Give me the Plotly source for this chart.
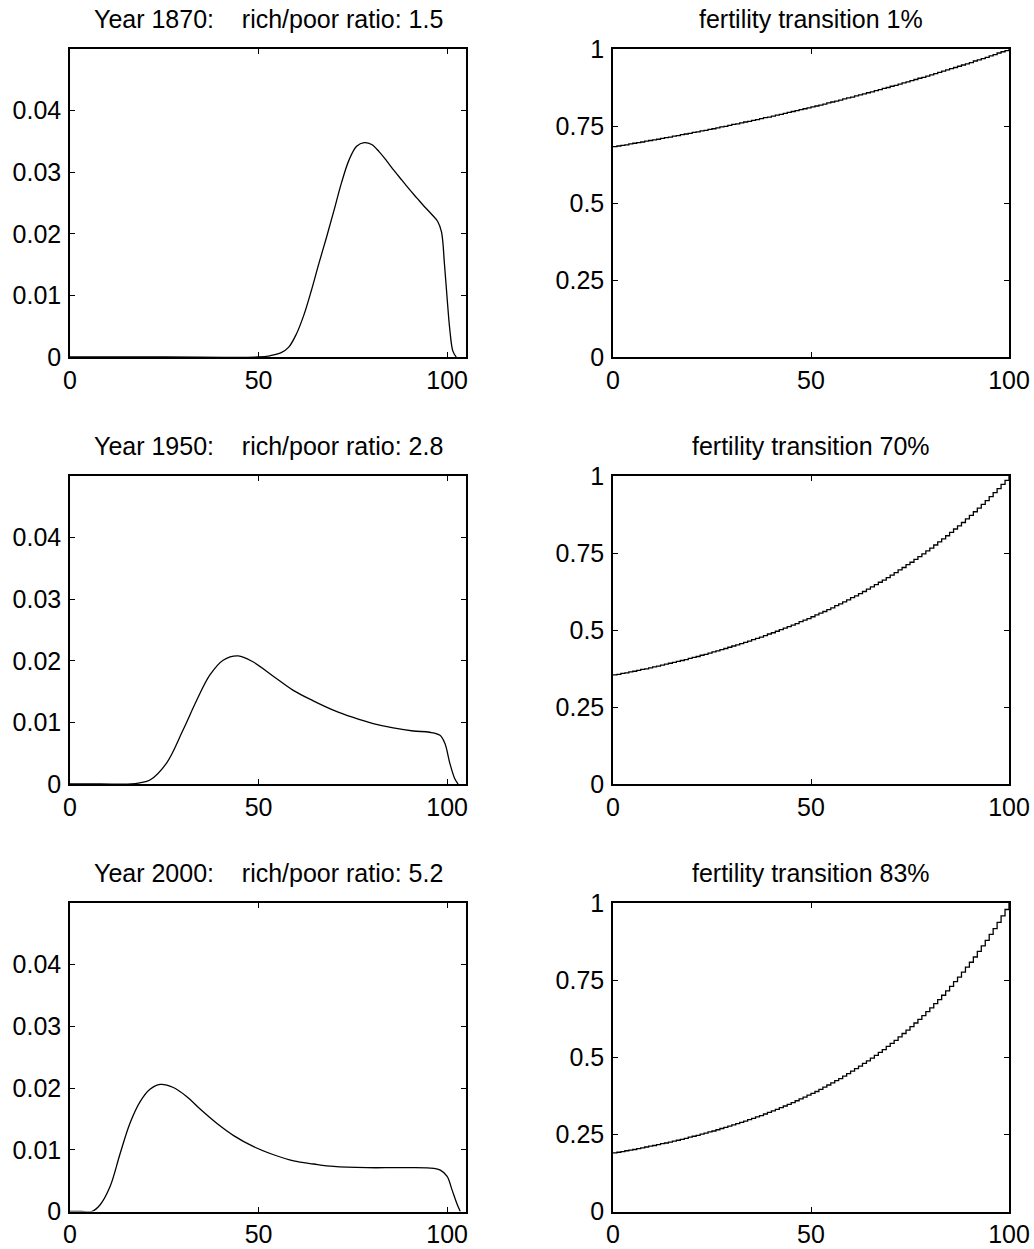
import plotly.graph_objects as go

# ---------------- data ----------------
titles_left = ["Year 1870:\u00a0\u00a0\u00a0 rich/poor ratio: 1.5",
               "Year 1950:\u00a0\u00a0\u00a0 rich/poor ratio: 2.8",
               "Year 2000:\u00a0\u00a0\u00a0 rich/poor ratio: 5.2"]
titles_right = ["fertility transition 1%",
                "fertility transition 70%",
                "fertility transition 83%"]

age_1870 = [0, 25, 50, 53, 56, 58, 60, 62, 64, 66, 68, 70, 72, 74, 76, 78, 80, 82, 84, 86,
            88, 90, 92, 94, 96, 97.5, 98.5, 99.3, 100, 100.7, 101.5, 102.4]
dens_1870 = [0, 0, 0, 0.0002, 0.0007, 0.0016, 0.0037, 0.0068, 0.0108, 0.0152, 0.0194, 0.0238,
             0.0283, 0.0320, 0.0342, 0.0348, 0.0345, 0.0333, 0.0318, 0.0302, 0.0287, 0.0272,
             0.0258, 0.0244, 0.0231, 0.0220, 0.0203, 0.0150, 0.0095, 0.0045, 0.0010, 0]

age_1950 = [0, 8, 16.3, 18.5, 21.2, 25.6, 30, 33.6, 37.1, 40.6, 44.6, 48.6, 53.9, 59.2, 64.5,
            69.8, 75.1, 80.4, 85.7, 91, 95.4, 98.1, 99.4, 100.7, 102, 102.9]
dens_1950 = [0, 0, 0, 0.0002, 0.00065, 0.0034, 0.0088, 0.0136, 0.0177, 0.0201, 0.0208, 0.0198,
             0.0175, 0.0152, 0.0135, 0.0120, 0.0108, 0.0098, 0.0091, 0.0086, 0.0084, 0.0079,
             0.0066, 0.0034, 0.0009, 0]

age_2000 = [0, 3, 5.75, 8, 10.6, 13.3, 15.9, 18.6, 21.2, 23.9, 27.4, 31, 34.5, 38.9, 43.4,
            48.7, 54, 59.3, 64.6, 69.9, 78.8, 87.6, 96.5, 98.2, 100, 101.3, 102.7, 103.5]
dens_2000 = [0, 0, 0, 0.0011, 0.0040, 0.0094, 0.0143, 0.0178, 0.0198, 0.0206, 0.0201, 0.0186,
             0.0166, 0.0143, 0.0123, 0.0105, 0.0092, 0.0082, 0.0077, 0.0073, 0.0071, 0.0071,
             0.0070, 0.0067, 0.0057, 0.0035, 0.0011, 0]

# fertility step levels, one per rank 0..100
rank = list(range(101))
fert_1 = [0.683, 0.685, 0.687, 0.689, 0.692, 0.694, 0.696, 0.698, 0.701, 0.703,
          0.705, 0.707, 0.710, 0.712, 0.714, 0.717, 0.719, 0.722, 0.724, 0.726,
          0.729, 0.731, 0.734, 0.736, 0.739, 0.741, 0.744, 0.747, 0.749, 0.752,
          0.755, 0.757, 0.760, 0.763, 0.765, 0.768, 0.771, 0.774, 0.777, 0.779,
          0.782, 0.785, 0.788, 0.791, 0.794, 0.797, 0.800, 0.803, 0.806, 0.809,
          0.812, 0.815, 0.818, 0.821, 0.825, 0.828, 0.831, 0.834, 0.838, 0.841,
          0.844, 0.848, 0.851, 0.854, 0.858, 0.861, 0.865, 0.868, 0.872, 0.875,
          0.879, 0.882, 0.886, 0.890, 0.893, 0.897, 0.901, 0.905, 0.908, 0.912,
          0.916, 0.920, 0.924, 0.928, 0.932, 0.936, 0.940, 0.944, 0.948, 0.952,
          0.956, 0.961, 0.965, 0.969, 0.973, 0.978, 0.982, 0.987, 0.991, 0.995,
          1.000]
fert_70 = [0.354, 0.356, 0.359, 0.361, 0.364, 0.366, 0.369, 0.372, 0.374, 0.377,
           0.380, 0.383, 0.386, 0.389, 0.392, 0.395, 0.398, 0.401, 0.404, 0.408,
           0.411, 0.414, 0.418, 0.421, 0.425, 0.429, 0.432, 0.436, 0.440, 0.444,
           0.448, 0.452, 0.456, 0.460, 0.464, 0.469, 0.473, 0.477, 0.482, 0.487,
           0.491, 0.496, 0.501, 0.506, 0.511, 0.516, 0.521, 0.527, 0.532, 0.537,
           0.543, 0.549, 0.555, 0.560, 0.566, 0.572, 0.579, 0.585, 0.591, 0.598,
           0.605, 0.611, 0.618, 0.625, 0.633, 0.640, 0.647, 0.655, 0.662, 0.670,
           0.678, 0.686, 0.695, 0.703, 0.712, 0.720, 0.729, 0.738, 0.747, 0.757,
           0.766, 0.776, 0.786, 0.796, 0.806, 0.817, 0.828, 0.838, 0.849, 0.861,
           0.872, 0.884, 0.896, 0.908, 0.920, 0.933, 0.946, 0.959, 0.973, 0.986,
           1.000]
fert_83 = [0.190, 0.192, 0.194, 0.197, 0.199, 0.201, 0.204, 0.206, 0.209, 0.212,
           0.214, 0.217, 0.220, 0.222, 0.225, 0.228, 0.231, 0.234, 0.237, 0.241,
           0.244, 0.247, 0.251, 0.254, 0.258, 0.261, 0.265, 0.269, 0.273, 0.277,
           0.281, 0.285, 0.289, 0.293, 0.298, 0.302, 0.307, 0.311, 0.316, 0.321,
           0.326, 0.331, 0.337, 0.342, 0.347, 0.353, 0.359, 0.365, 0.371, 0.377,
           0.383, 0.389, 0.396, 0.403, 0.410, 0.417, 0.424, 0.431, 0.439, 0.447,
           0.455, 0.463, 0.471, 0.480, 0.488, 0.497, 0.506, 0.516, 0.525, 0.535,
           0.545, 0.555, 0.566, 0.577, 0.588, 0.599, 0.611, 0.623, 0.635, 0.648,
           0.660, 0.674, 0.687, 0.701, 0.715, 0.730, 0.745, 0.760, 0.776, 0.792,
           0.808, 0.825, 0.843, 0.861, 0.879, 0.898, 0.917, 0.937, 0.958, 0.979,
           1.000]

left_x = [age_1870, age_1950, age_2000]
left_y = [dens_1870, dens_1950, dens_2000]
right_y = [fert_1, fert_70, fert_83]

left_ticks = [0, 0.01, 0.02, 0.03, 0.04]
left_ticktext = ["0", "0.01", "0.02", "0.03", "0.04"]
right_ticks = [0, 0.25, 0.5, 0.75, 1]
right_ticktext = ["0", "0.25", "0.5", "0.75", "1"]
x_ticks = [0, 50, 100]

# ---------------- layout geometry (page pixels) ----------------
W, H = 1034, 1249
col_px = [(70, 466), (613, 1009)]
row_px = [(49, 357), (476, 784), (903, 1211.5)]

FONT = "Liberation Sans, Arial, Helvetica, sans-serif"
TICKSIZE = 25
TITLESIZE = 25

fig = go.Figure()
annotations = []

def axis_common():
    return dict(showline=True, linecolor="black", linewidth=1.5, mirror="ticks",
                ticks="inside", ticklen=5, tickwidth=1, tickcolor="black",
                showgrid=False, zeroline=False, automargin=False,
                tickfont=dict(family=FONT, size=TICKSIZE, color="black"))

for r in range(3):
    for c in range(2):
        idx = r * 2 + c + 1
        xa = "x" if idx == 1 else f"x{idx}"
        ya = "y" if idx == 1 else f"y{idx}"
        if c == 0:
            fig.add_trace(go.Scatter(x=left_x[r], y=left_y[r], mode="lines",
                                     line=dict(color="black", width=1.3, shape="spline", smoothing=1.0),
                                     xaxis=xa, yaxis=ya, showlegend=False, hoverinfo="skip"))
        else:
            fig.add_trace(go.Scatter(x=rank, y=right_y[r], mode="lines",
                                     line=dict(color="black", width=1.3, shape="hv"),
                                     xaxis=xa, yaxis=ya, showlegend=False, hoverinfo="skip"))
        x0, x1 = col_px[c]
        y0, y1 = row_px[r]
        xd = [x0 / W, x1 / W]
        yd = [1 - y1 / H, 1 - y0 / H]
        xkey = "xaxis" if idx == 1 else f"xaxis{idx}"
        ykey = "yaxis" if idx == 1 else f"yaxis{idx}"
        xax = axis_common()
        xax.update(domain=xd, anchor=ya, tickvals=x_ticks, ticktext=[str(v) for v in x_ticks],
                   range=[0, 105] if c == 0 else [0, 100], ticklabelstandoff=0)
        yax = axis_common()
        if c == 0:
            yax.update(domain=yd, anchor=xa, range=[0, 0.05], tickvals=left_ticks,
                       ticktext=left_ticktext, ticklabelstandoff=2)
        else:
            yax.update(domain=yd, anchor=xa, range=[0, 1], tickvals=right_ticks,
                       ticktext=right_ticktext, ticklabelstandoff=2)
        fig.layout[xkey] = xax
        fig.layout[ykey] = yax
        title = titles_left[r] if c == 0 else titles_right[r]
        annotations.append(dict(text=title, xref="paper", yref="paper",
                                x=(x0 + x1) / 2 / W, y=1 - (y0 - 30) / H,
                                xanchor="center", yanchor="middle", showarrow=False,
                                font=dict(family=FONT, size=TITLESIZE, color="black")))

fig.update_layout(width=W, height=H, margin=dict(l=0, r=0, t=0, b=0),
                  paper_bgcolor="white", plot_bgcolor="white",
                  annotations=annotations, showlegend=False)

# remove the browser's default 8px body margin so the figure fills the window exactly
fig.write_html("out.html", config={"displayModeBar": False},
               post_script="document.body.style.margin='0';document.body.style.overflow='hidden';")
